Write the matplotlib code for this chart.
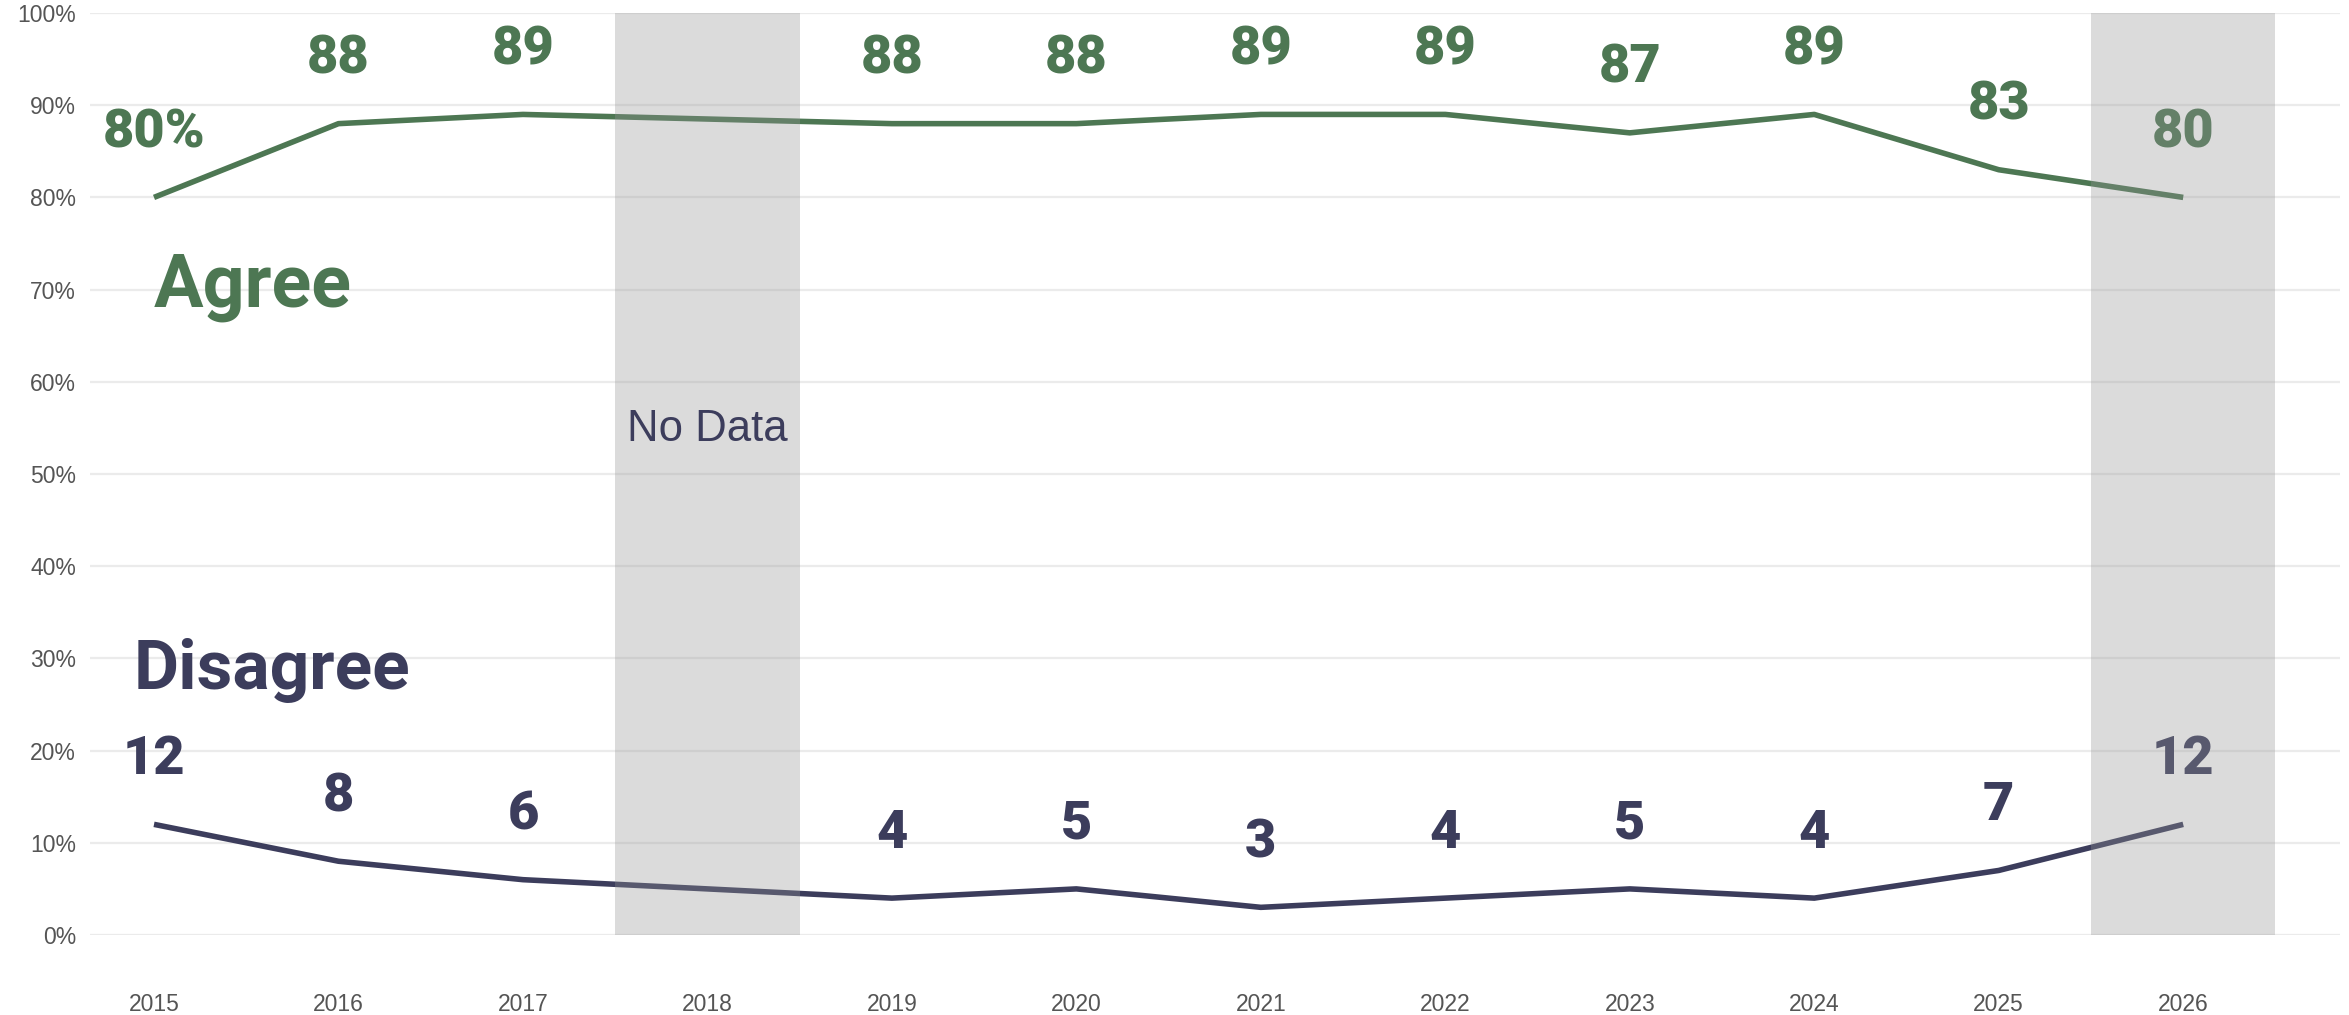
import matplotlib
matplotlib.use("Agg")
import matplotlib.pyplot as plt
import numpy as np

years = [2015, 2016, 2017, 2019, 2020, 2021, 2022, 2023, 2024, 2025, 2026]
agree = [80, 88, 89, 88, 88, 89, 89, 87, 89, 83, 80]
disagree = [12, 8, 6, 4, 5, 3, 4, 5, 4, 7, 12]
tick_years = list(range(2015, 2027))
ytick_vals = list(range(0, 101, 10))
ytick_labels = [f"{v}%" for v in ytick_vals]
shaded_years = [2018, 2026]

GREEN = "#4d7753"
NAVY = "#3c3d5c"
LABEL_FONT = "Roboto"

fig = plt.figure(figsize=(23.49, 10.15), dpi=100)
ax = fig.add_axes([90/2349, 1-935/1015, (2340-90)/2349, (935-13)/1015])
ax.set_xlim(2014.653, 2026.85)
ax.set_ylim(0, 100)

for v in ytick_vals:
    ax.axhline(v, color="#ebebeb", lw=1.6, zorder=0)

ax.plot(years, agree, color=GREEN, lw=4.0, solid_joinstyle="round", solid_capstyle="butt", zorder=2)
ax.plot(years, disagree, color=NAVY, lw=4.0, solid_joinstyle="round", solid_capstyle="butt", zorder=2)

for i, (x, a, d) in enumerate(zip(years, agree, disagree)):
    at = f"{a}%" if i == 0 else f"{a}"
    ax.text(x, a + 7.0, at, color=GREEN, fontsize=39, fontfamily=LABEL_FONT,
            fontweight="black", ha="center", va="center", zorder=3)
    ax.text(x, d + 7.0, f"{d}", color=NAVY, fontsize=39, fontfamily=LABEL_FONT,
            fontweight="black", ha="center", va="center", zorder=3)

for sy in shaded_years:
    ax.axvspan(sy - 0.5, sy + 0.5, ymin=0, ymax=1, color="#949494", alpha=0.33, lw=0, zorder=4)

ax.text(2018, 54.8, "No Data", color=NAVY, fontsize=31.5, fontfamily="Liberation Sans",
        ha="center", va="center", zorder=5)

ax.text(2015.0, 68.2, "Agree", color=GREEN, fontsize=53, fontfamily=LABEL_FONT,
        fontweight="bold", ha="left", va="baseline", zorder=3)
ax.text(2014.89, 26.7, "Disagree", color=NAVY, fontsize=50, fontfamily=LABEL_FONT,
        fontweight="bold", ha="left", va="baseline", zorder=3)

ax.set_xticks(tick_years)
ax.set_xticklabels([str(y) for y in tick_years], fontsize=16.5, color="#555555",
                   fontfamily="Liberation Sans")
ax.set_yticks(ytick_vals)
ax.set_yticklabels(ytick_labels, fontsize=16.5, color="#555555", fontfamily="Liberation Sans")
ax.tick_params(axis="x", length=0, pad=42)
ax.tick_params(axis="y", length=0, pad=10)
for s in ax.spines.values():
    s.set_visible(False)
ax.set_facecolor("white")
fig.patch.set_facecolor("white")

fig.savefig("out.png", dpi=100)
